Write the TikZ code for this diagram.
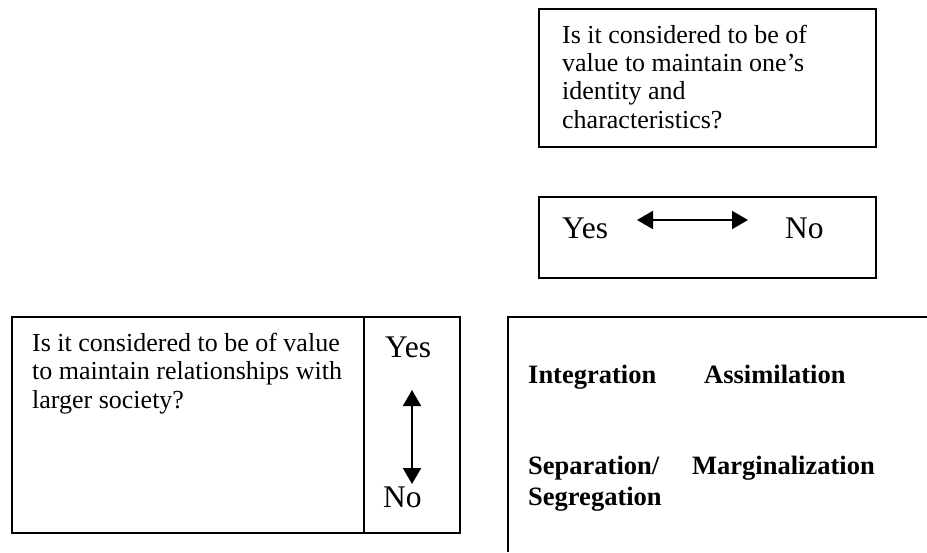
\documentclass[tikz,border=0pt]{standalone}
\usepackage{fontspec}
\setmainfont{Liberation Serif}
\usetikzlibrary{arrows.meta}

\tikzset{
  box/.style={draw,line width=1.8pt},
  ask/.style={anchor=base west,inner sep=0pt,align=left,font=\fontsize{26}{28.3}\selectfont},
  ans/.style={anchor=base west,inner sep=0pt,font=\fontsize{31.5}{33}\selectfont},
  mode/.style={anchor=base west,inner sep=0pt,align=left,font=\fontsize{26.5}{31}\selectfont\bfseries},
  both/.style={{Triangle[length=16pt,width=18pt]}-{Triangle[length=16pt,width=18pt]},line width=2pt},
}

\begin{document}
\begin{tikzpicture}[x=1pt,y=-1pt]
        \useasboundingbox (0,0) rectangle (927,552);
        % identity question
        \draw[box] (539,9) rectangle (876,147);
        \node[ask] (identity) at (562,128) {Is it considered to be of\\value to maintain one's\\identity and\\characteristics?};
        \draw[box] (539,197) rectangle (876,278);
        \node[ans] (yesA) at (562,238) {Yes};
        \node[ans] (noA) at (785,238) {No};
        \coordinate (yesAtip) at (637,220);
        \coordinate (noAtip) at (748,220);
        \draw[both] (yesAtip) -- (noAtip);
        % society question
        \draw[box] (12,317) rectangle (460,533);
        \draw[box] (364,317) -- (364,533);
        \node[ask] (society) at (32,408) {Is it considered to be of value\\to maintain relationships with\\larger society?};
        \node[ans] (yesB) at (385,357) {Yes};
        \node[ans] (noB) at (383,507) {No};
        \coordinate (yesBtip) at (412,390);
        \coordinate (noBtip) at (412,484);
        \draw[both] (yesBtip) -- (noBtip);
        % strategies
        \draw[box] (927,317) -- (508,317) -- (508,552);
        \node[mode] (integration) at (528,383) {Integration};
        \node[mode] (assimilation) at (704,383) {Assimilation};
        \node[mode] (separation) at (528,505) {Separation/\\Segregation};
        \node[mode] (marginalization) at (692,474) {Marginalization};
    \end{tikzpicture}
\end{document}
